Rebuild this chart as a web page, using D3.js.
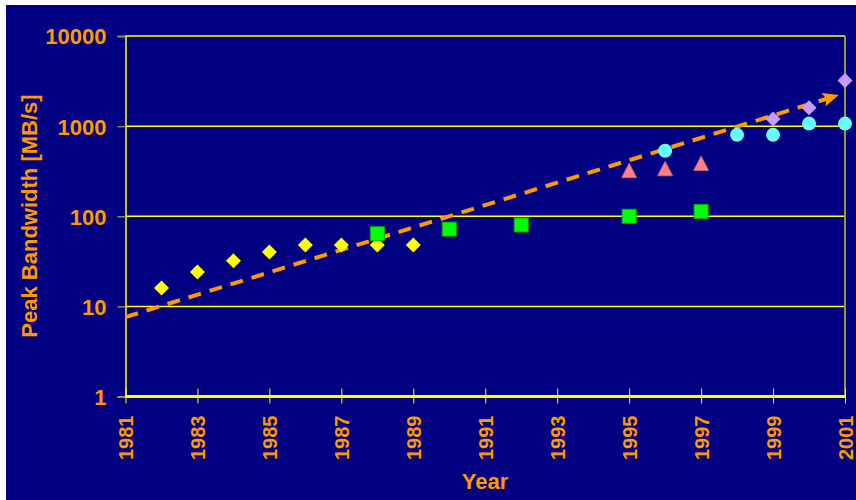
<!DOCTYPE html>
<html>
<head>
<meta charset="utf-8">
<script src="https://cdn.jsdelivr.net/npm/d3@7"></script>
<style>
  html, body { margin: 0; padding: 0; background: #ffffff; }
  svg { display: block; }
  text { font-family: "Liberation Sans", Arial, sans-serif; font-weight: bold; fill: #FF9900; }
</style>
</head>
<body>
<svg id="chart" width="856" height="500"></svg>
<script>
// Peak bandwidth of successive bus / interconnect generations (MB/s)
const yellowYears = [1982, 1983, 1984, 1985, 1986, 1987, 1988, 1989];
const yellowValues = [16, 24, 32, 40, 48, 48, 48, 48];

const greenYears = [1988, 1990, 1992, 1995, 1997];
const greenValues = [64, 72, 80, 100, 113];

const pinkYears = [1995, 1996, 1997];
const pinkValues = [320, 336, 384];

const cyanYears = [1996, 1998, 1999, 2000, 2001];
const cyanValues = [533, 800, 800, 1066, 1066];

const purpleYears = [1999, 2000, 2001];
const purpleValues = [1200, 1600, 3200];

// Exponential trend, start and end points
const trendYears = [1981, 2000.8];
const trendValues = [7.6, 2200];

const xTickYears = [1981, 1983, 1985, 1987, 1989, 1991, 1993, 1995, 1997, 1999, 2001];
const yTickValues = [1, 10, 100, 1000, 10000];

const svg = d3.select("#chart");
const W = 856, H = 500;
const plot = { left: 125.5, right: 845, top: 36, bottom: 396.5 };

// Navy background with white strips on the left and top edge
svg.append("rect").attr("x", 6).attr("y", 5).attr("width", W - 6).attr("height", H - 5).attr("fill", "#000080");

const x = d3.scaleLinear().domain([1981, 2001]).range([plot.left, plot.right]);
const y = d3.scaleLog().domain([1, 10000]).range([plot.bottom, plot.top]);

// Horizontal gridlines
svg.append("g").selectAll("line").data(yTickValues.filter(v => v > 1)).join("line")
  .attr("x1", plot.left).attr("x2", plot.right)
  .attr("y1", d => y(d)).attr("y2", d => y(d))
  .attr("stroke", "#FFFF00").attr("stroke-width", 1.5);

// Right border
svg.append("line").attr("x1", plot.right).attr("x2", plot.right)
  .attr("y1", plot.top).attr("y2", plot.bottom)
  .attr("stroke", "#999933").attr("stroke-width", 2);

// Y axis
const yAxis = d3.axisLeft(y).tickValues(yTickValues).tickFormat(d3.format("d")).tickSize(8).tickPadding(11);
const gy = svg.append("g").attr("transform", `translate(${plot.left},0)`).call(yAxis);
gy.select(".domain").attr("stroke", "#FFFF00").attr("stroke-width", 1.5);
gy.selectAll(".tick line").attr("stroke", "#8a8a4a").attr("stroke-width", 1.5);
gy.selectAll(".tick text").attr("font-size", 22).attr("fill", "#FF9900")
  .attr("font-family", "'Liberation Sans', Arial, sans-serif").attr("font-weight", "bold")
  .attr("dy", "0.36em");

// X axis
const xAxis = d3.axisBottom(x).tickValues(xTickYears).tickFormat(d3.format("d")).tickSize(8).tickPadding(0);
const gx = svg.append("g").attr("transform", `translate(0,${plot.bottom})`).call(xAxis);
gx.select(".domain").remove();
gx.selectAll(".tick line").attr("y1", -8).attr("y2", 7).attr("stroke", "#FFFF00").attr("stroke-width", 1);
gx.selectAll(".tick text")
  .attr("font-size", 20).attr("fill", "#FF9900")
  .attr("font-family", "'Liberation Sans', Arial, sans-serif").attr("font-weight", "bold")
  .attr("text-anchor", "end")
  .attr("transform", "translate(7,19) rotate(-90)")
  .attr("x", 0).attr("y", 0).attr("dy", 0);
svg.append("line").attr("x1", plot.left).attr("x2", plot.right)
  .attr("y1", plot.bottom).attr("y2", plot.bottom)
  .attr("stroke", "#FFFF00").attr("stroke-width", 3);

// Axis titles
svg.append("text").attr("x", 485).attr("y", 489).attr("text-anchor", "middle")
  .attr("font-size", 22).text("Year");
svg.append("text").attr("transform", "translate(37,216) rotate(-90)").attr("text-anchor", "middle")
  .attr("font-size", 22).text("Peak Bandwidth [MB/s]");

// Trend line with arrow head
const defs = svg.append("defs");
defs.append("marker").attr("id", "arrow")
  .attr("viewBox", "0 0 16 14").attr("refX", 15).attr("refY", 7)
  .attr("markerWidth", 16).attr("markerHeight", 14).attr("markerUnits", "userSpaceOnUse")
  .attr("orient", "auto")
  .append("path").attr("d", "M0,0 L16,7 L0,14 L3,7 Z").attr("fill", "#FF9900");

const trendPts = trendYears.map((t, i) => [x(t), y(trendValues[i])]);
svg.append("path")
  .attr("d", d3.line()(trendPts))
  .attr("fill", "none").attr("stroke", "#FF9900").attr("stroke-width", 4)
  .attr("stroke-dasharray", "13,9")
  .attr("marker-end", "url(#arrow)");

// Markers
const diamond = d3.symbol().type(d3.symbolDiamond2 || d3.symbolSquare);
function zip(a, b) { return a.map((t, i) => ({ year: t, value: b[i] })); }

function drawDiamonds(data, fill) {
  svg.append("g").selectAll("path").data(data).join("path")
    .attr("d", "M0,-7.5 L7.5,0 L0,7.5 L-7.5,0 Z")
    .attr("transform", d => `translate(${x(d.year)},${y(d.value)})`)
    .attr("fill", fill);
}
drawDiamonds(zip(yellowYears, yellowValues), "#FFFF00");

svg.append("g").selectAll("rect").data(zip(greenYears, greenValues)).join("rect")
  .attr("x", d => x(d.year) - 7).attr("y", d => y(d.value) - 7)
  .attr("width", 14).attr("height", 14)
  .attr("fill", "#00FF00").attr("stroke", "#00B000").attr("stroke-width", 1);

svg.append("g").selectAll("path").data(zip(pinkYears, pinkValues)).join("path")
  .attr("d", "M0,-7.5 L7.5,7 L-7.5,7 Z")
  .attr("transform", d => `translate(${x(d.year)},${y(d.value)})`)
  .attr("fill", "#FF8080").attr("stroke", "#d06a7a").attr("stroke-width", 0.8);

svg.append("g").selectAll("circle").data(zip(cyanYears, cyanValues)).join("circle")
  .attr("cx", d => x(d.year)).attr("cy", d => y(d.value)).attr("r", 7)
  .attr("fill", "#66FFFF");

drawDiamonds(zip(purpleYears, purpleValues), "#CC99FF");
</script>
</body>
</html>
